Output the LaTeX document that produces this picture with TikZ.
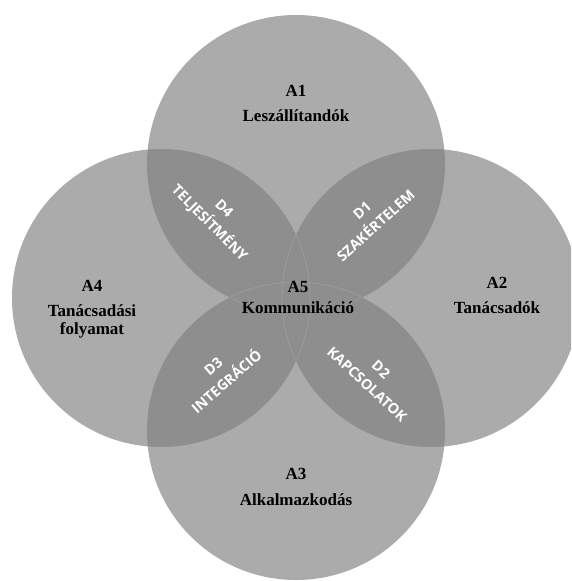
\documentclass[tikz,border=0pt]{standalone}
\usepackage{fontspec}
\setmainfont{Liberation Serif}
\newfontfamily\petalfont{Open Sans}
\definecolor{ringgray}{RGB}{171,171,171}
\definecolor{lensgray}{RGB}{142,142,142}
\definecolor{edgegray}{RGB}{156,156,156}
\begin{document}
\begin{tikzpicture}[x=1pt,y=-1pt,
  area/.style={font=\bfseries\fontsize{17}{18}\selectfont, align=center, text=black, inner sep=0pt},
  petal/.style={font=\petalfont\bfseries\fontsize{14.3}{20.5}\selectfont, align=center, text=white, inner sep=0pt}]
\useasboundingbox (0,0) rectangle (571,581);
\clip (0,0) rectangle (571,581);
\coordinate (ctop) at (296,164);
\coordinate (cleft) at (161,298);
\coordinate (cright) at (431,298);
\coordinate (cbot) at (296,431);
\foreach \c in {ctop,cleft,cright,cbot}
  \fill[ringgray] (\c) circle[radius=149pt];
\foreach \a/\b in {ctop/cleft,ctop/cright,cbot/cleft,cbot/cright,ctop/cbot,cleft/cright}{
  \begin{scope}
  \clip (\a) circle[radius=149pt];
  \fill[lensgray] (\b) circle[radius=149pt];
  \end{scope}}
\foreach \a/\b in {ctop/cbot,cbot/ctop,cleft/cright,cright/cleft}{
  \begin{scope}
  \clip (\b) circle[radius=149pt];
  \draw[edgegray, line width=0.8pt] (\a) circle[radius=149pt];
  \end{scope}}

\node[area] (a1) at (296,103.5) {A1\\[6.5pt]Leszállítandók};
\node[area] (a2) at (497,295.5) {A2\\[7.5pt]Tanácsadók};
\node[area] (a3) at (296,487) {A3\\[8pt]Alkalmazkodás};
\node[area] (a4) at (92,309.5) {A4\\[7pt]Tanácsadási\\folyamat};
\node[area] (a5) at (298,297.2) {A5\\[3pt]Kommunikáció};

\node[petal, rotate=42] (d1) at (369,218) {D1\\SZAKÉRTELEM};
\node[petal, rotate=-43] (d2) at (374,377) {D2\\KAPCSOLATOK};
\node[petal, rotate=41] (d3) at (220,374) {D3\\INTEGRÁCIÓ};
\node[petal, rotate=-45] (d4) at (216,216.5) {D4\\TELJESÍTMÉNY};

\end{tikzpicture}
\end{document}
